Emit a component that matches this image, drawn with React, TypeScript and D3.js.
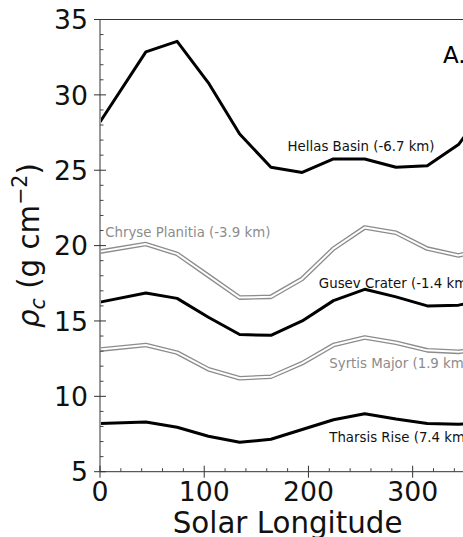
import React from "react";
import * as d3 from "d3";

const solarLon = [0, 44, 74, 104, 134, 164, 194, 224, 254, 284, 314, 344, 360];
const hellas = [28.2, 32.85, 33.55, 30.8, 27.4, 25.2, 24.85, 25.75, 25.75, 25.2, 25.3, 26.7, 28.2];
const chryse = [19.6, 20.1, 19.45, 18.0, 16.55, 16.6, 17.8, 19.8, 21.2, 20.85, 19.8, 19.35, 19.6];
const gusev = [16.25, 16.85, 16.5, 15.25, 14.1, 14.05, 15.0, 16.35, 17.1, 16.6, 16.0, 16.05, 16.25];
const syrtis = [13.1, 13.4, 12.9, 11.8, 11.2, 11.3, 12.2, 13.4, 13.9, 13.55, 13.05, 12.95, 13.1];
const tharsis = [8.2, 8.3, 7.95, 7.35, 6.95, 7.15, 7.8, 8.45, 8.85, 8.5, 8.2, 8.15, 8.2];

const seriesNames = ["Hellas Basin (-6.7 km)", "Chryse Planitia (-3.9 km)", "Gusev Crater (-1.4 km)", "Syrtis Major (1.9 km)", "Tharsis Rise (7.4 km)"];
const seriesValues = [hellas, chryse, gusev, syrtis, tharsis];
const seriesDouble = [false, true, false, true, false];
const labelX = [180, 5, 210, 220, 220];
const labelY = [26.26, 20.58, 17.2, 11.85, 6.98];

const xMajor = [0, 100, 200, 300];
const yMajor = [5, 10, 15, 20, 25, 30, 35];

const FONT = "DejaVu Sans, Verdana, sans-serif";

export default function App() {
  const W = 463, H = 537;
  const x = d3.scaleLinear().domain([0, 360]).range([100, 475.2]);
  const y = d3.scaleLinear().domain([5, 35]).range([471.7, 19.5]);
  const line = d3.line<number>().x((_, i) => x(solarLon[i])).y((v) => y(v));

  const xMinor = d3.range(0, 361, 20).filter((v) => v % 100 !== 0);
  const yMinor = d3.range(5, 36, 1).filter((v) => v % 5 !== 0);
  const tickFs = 26.7;
  const labFs = 29.3;

  return (
    <svg width={W} height={H} style={{ position: "absolute", left: 0, top: 0, background: "#fff" }} fontFamily={FONT}>
      <rect x={0} y={0} width={W} height={H} fill="#fff" />
      {/* series */}
      {seriesValues.map((vals, k) =>
        seriesDouble[k] ? (
          <g key={k}>
            <path d={line(vals) || ""} fill="none" stroke="#8c8c8c" strokeWidth={4.6} strokeLinejoin="round" strokeLinecap="butt" />
            <path d={line(vals) || ""} fill="none" stroke="#fff" strokeWidth={2} strokeLinejoin="round" strokeLinecap="butt" />
          </g>
        ) : (
          <path key={k} d={line(vals) || ""} fill="none" stroke="#000" strokeWidth={3} strokeLinejoin="round" />
        )
      )}
      {/* series labels */}
      {seriesNames.map((n, k) => (
        <text key={n} x={x(labelX[k])} y={y(labelY[k])} fontSize={13.33} fill={seriesDouble[k] ? "#8c8c8c" : "#111"}>
          {n}
        </text>
      ))}
      <text x={x(329)} y={y(32.13)} fontSize={23} fill="#000">A.</text>

      {/* spines */}
      <line x1={x(0)} x2={x(360)} y1={y(35)} y2={y(35)} stroke="#333" strokeWidth={1} />
      <line x1={x(0)} x2={x(360)} y1={y(5)} y2={y(5)} stroke="#333" strokeWidth={1} />
      <line x1={x(0)} x2={x(0)} y1={y(5)} y2={y(35)} stroke="#999" strokeWidth={2} />

      {/* y ticks */}
      {yMinor.map((v) => (
        <line key={"ym" + v} x1={x(0)} x2={x(0) + 3.5} y1={y(v)} y2={y(v)} stroke="#444" strokeWidth={1} />
      ))}
      {yMajor.map((v) => (
        <g key={"yM" + v}>
          <line x1={x(0) - 6} x2={x(0) + 6} y1={y(v)} y2={y(v)} stroke="#333" strokeWidth={1} />
          <text x={88} y={y(v) + 0.365 * tickFs} fontSize={tickFs} textAnchor="end" fill="#111">{v}</text>
        </g>
      ))}
      {/* x ticks */}
      {xMinor.map((v) => (
        <line key={"xm" + v} x1={x(v)} x2={x(v)} y1={y(5)} y2={y(5) - 3.5} stroke="#444" strokeWidth={1} />
      ))}
      {xMajor.map((v) => (
        <g key={"xM" + v}>
          <line x1={x(v)} x2={x(v)} y1={y(5) - 6} y2={y(5) + 6} stroke="#333" strokeWidth={1} />
          <text x={x(v)} y={501} fontSize={tickFs} textAnchor="middle" fill="#111">{v}</text>
        </g>
      ))}

      {/* axis labels */}
      <text x={(x(0) + x(360)) / 2} y={533} fontSize={labFs} textAnchor="middle" fill="#111">Solar Longitude</text>
      <text transform={`translate(39,${(y(5) + y(35)) / 2}) rotate(-90)`} fontSize={labFs} textAnchor="middle" fill="#111">
        <tspan fontStyle="italic">ρ</tspan>
        <tspan fontStyle="italic" fontSize={labFs * 0.7} dy={0.2 * labFs}>c</tspan>
        <tspan dy={-0.2 * labFs}>{" (g cm"}</tspan>
        <tspan fontSize={labFs * 0.7} dy={-0.4 * labFs}>−2</tspan>
        <tspan dy={0.4 * labFs}>)</tspan>
      </text>
    </svg>
  );
}
